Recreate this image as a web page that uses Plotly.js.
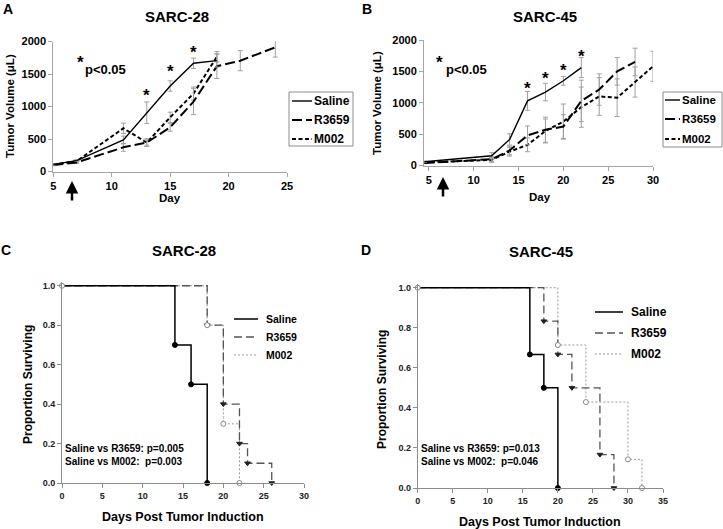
<!DOCTYPE html>
<html>
<head>
<meta charset="utf-8">
<script src="https://cdn.plot.ly/plotly-3.0.1.min.js"></script>
<style>
html,body{margin:0;padding:0;background:#fff}
#plot{width:723px;height:529px}
</style>
</head>
<body>
<div id="plot"></div>
<script>
// A: tumor volume, SARC-28
const daysA_saline=[5,7,11,13,15,17,19]
const volA_saline=[110,167,485,905,1315,1665,1705]
const errA_saline=[12,15,60,165,80,80,100]
const daysA_r3659=[5,7,11,13,15,17,19,21,24]
const volA_r3659=[100,140,372,445,680,1075,1620,1705,1910]
const errA_r3659=[12,15,60,40,60,200,190,155,150]
const daysA_m002=[5,7,11,13,15,17,19]
const volA_m002=[105,160,665,445,833,1200,1765]
const errA_m002=[12,15,80,60,80,100,80]
const sigDaysA=[13,15,17]
const sigYA=[1250,1610,1910]

// B: tumor volume, SARC-45
const daysB_saline=[4.5,12,14,16,18,20,22]
const volB_saline=[60,155,415,1030,1170,1350,1560]
const errB_saline=[10,50,90,150,140,70,160]
const daysB_r3659=[4.5,12,14,16,18,20,22,24,26,28]
const volB_r3659=[40,100,240,480,570,620,1030,1210,1500,1650]
const errB_r3659=[10,40,70,150,200,190,330,250,220,220]
const daysB_m002=[4.5,12,14,16,18,20,22,24,26,28,30]
const volB_m002=[50,90,220,330,550,700,930,1100,1080,1330,1580]
const errB_m002=[10,40,70,110,190,280,320,300,300,240,240]
const sigDaysB=[16,18,20,22]
const sigYB=[1310,1470,1590,1815]

// C / D: Kaplan-Meier survival
const tC_saline=[0,14,16,18], sC_saline=[1,0.7,0.5,0]
const tC_r3659=[0,18,20,22,23,26], sC_r3659=[1,0.8,0.4,0.2,0.1,0]
const tC_m002=[0,18,20,22], sC_m002=[1,0.8,0.3,0]
const tD_saline=[0,16,18,20], sD_saline=[1,0.667,0.5,0]
const tD_r3659=[0,18,20,22,26,28], sD_r3659=[1,0.833,0.667,0.5,0.167,0]
const tD_m002=[0,20,24,30,32], sD_m002=[1,0.714,0.429,0.143,0]

const groups=["Saline","R3659","M002"]
const pvalC=["Saline vs R3659: p=0.005","Saline vs M002:\u00a0 p=0.003"]
const pvalD=["Saline vs R3659: p=0.013","Saline vs M002:\u00a0 p=0.046"]

const FONT='Liberation Sans, Arial, sans-serif'
const W=723,H=529
const px=x=>x/W
const py=y=>1-y/H

function growth(days,vol,err,dash,width,xa,ya){
return {x:days,y:vol,type:'scatter',mode:'lines',xaxis:xa,yaxis:ya,showlegend:false,
line:{color:'#000',width:width,dash:dash},
error_y:{type:'data',array:err,color:'#a0a0a0',thickness:1,width:2.5}}
}
function kmLine(t,s,color,dash,width,xa,ya){
return {x:t,y:s,type:'scatter',mode:'lines',xaxis:xa,yaxis:ya,showlegend:false,
line:{shape:'hv',color:color,dash:dash,width:width}}
}
function kmMarks(t,s,symbol,color,fill,xa,ya){
return {x:t,y:s,type:'scatter',mode:'markers',xaxis:xa,yaxis:ya,showlegend:false,cliponaxis:false,
marker:{symbol:symbol,size:5,color:fill,line:{color:color,width:1}}}
}

const dashA=['solid','10px,4px','4px,2.5px']
const widthA=[1.4,2,2]
const kmColor=['#000','#555','#9a9a9a']
const kmDash=['solid','8px,4px','2px,2px']
const kmWidth=[1.5,1.3,1]

const data=[
growth(daysA_m002,volA_m002,errA_m002,dashA[2],widthA[2],'x','y'),
growth(daysA_r3659,volA_r3659,errA_r3659,dashA[1],widthA[1],'x','y'),
growth(daysA_saline,volA_saline,errA_saline,dashA[0],widthA[0],'x','y'),
growth(daysB_m002,volB_m002,errB_m002,dashA[2],widthA[2],'x2','y2'),
growth(daysB_r3659,volB_r3659,errB_r3659,dashA[1],widthA[1],'x2','y2'),
growth(daysB_saline,volB_saline,errB_saline,dashA[0],widthA[0],'x2','y2'),
kmLine(tC_m002,sC_m002,kmColor[2],kmDash[2],kmWidth[2],'x3','y3'),
kmLine(tC_r3659,sC_r3659,kmColor[1],kmDash[1],kmWidth[1],'x3','y3'),
kmLine(tC_saline,sC_saline,kmColor[0],kmDash[0],kmWidth[0],'x3','y3'),
kmMarks(tC_r3659.slice(1),sC_r3659.slice(1),'triangle-down','#222','#222','x3','y3'),
kmMarks(tC_saline.slice(1),sC_saline.slice(1),'circle','#000','#000','x3','y3'),
kmMarks(tC_m002,sC_m002,'circle','#888','#fff','x3','y3'),
kmLine(tD_m002,sD_m002,kmColor[2],kmDash[2],kmWidth[2],'x4','y4'),
kmLine(tD_r3659,sD_r3659,kmColor[1],kmDash[1],kmWidth[1],'x4','y4'),
kmLine(tD_saline,sD_saline,kmColor[0],kmDash[0],kmWidth[0],'x4','y4'),
kmMarks(tD_r3659.slice(1),sD_r3659.slice(1),'triangle-down','#222','#222','x4','y4'),
kmMarks(tD_saline.slice(1),sD_saline.slice(1),'circle','#000','#000','x4','y4'),
kmMarks(tD_m002,sD_m002,'circle','#888','#fff','x4','y4')
]

const gAxis={showline:true,linecolor:'#a6a6a6',linewidth:1,ticks:'outside',ticklen:4,tickcolor:'#a6a6a6',
showgrid:false,zeroline:false,tickfont:{family:FONT,size:11,color:'#000',weight:'bold'}}
const kAxis={showline:true,linecolor:'#8c8c8c',linewidth:1,ticks:'outside',ticklen:4,tickcolor:'#8c8c8c',
showgrid:false,zeroline:false,tickfont:{family:FONT,size:9,color:'#222',weight:'bold'}}

const ann=[]
function txt(x,y,text,size,opts){
ann.push(Object.assign({xref:'paper',yref:'paper',x:px(x),y:py(y),text:text,showarrow:false,
font:{family:FONT,size:size,color:'#000',weight:'bold'},xanchor:'center',yanchor:'middle'},opts||{}))
}
// panel letters and titles
txt(8,9,'A',14); txt(367,9,'B',14); txt(6,250,'C',14); txt(366,250,'D',14)
txt(177,17,'SARC-28',15); txt(545,17,'SARC-45',15)
txt(184,250,'SARC-28',15); txt(541,251,'SARC-45',15)
// axis titles
txt(170,198,'Day',11.5); txt(540,197,'Day',11.5)
txt(10,106,'Tumor Volume (μL)',11.5,{textangle:-90})
txt(377,103,'Tumor Volume (μL)',11.5,{textangle:-90})
txt(183,517,'Days Post Tumor Induction',12.5)
txt(540,522,'Days Post Tumor Induction',12.5)
txt(28,385,'Proportion Surviving',12,{textangle:-90})
txt(382,390,'Proportion Surviving',12,{textangle:-90})
// p<0.05 notes
txt(80,62,'*',17); txt(83,70,'p<0.05',13,{xanchor:'left'})
txt(440,62,'*',17); txt(444,70,'p<0.05',13,{xanchor:'left'})
sigDaysA.forEach((d,i)=>ann.push({xref:'x',yref:'y',x:d,y:sigYA[i],text:'*',showarrow:false,yshift:-5,
font:{family:FONT,size:17,color:'#000',weight:'bold'}}))
sigDaysB.forEach((d,i)=>ann.push({xref:'x2',yref:'y2',x:d,y:sigYB[i],text:'*',showarrow:false,yshift:-5,
font:{family:FONT,size:17,color:'#000',weight:'bold'}}))
// log-rank notes
pvalC.forEach((t,i)=>txt(63,448+i*13,t,10,{xanchor:'left'}))
pvalD.forEach((t,i)=>txt(419,448+i*13,t,10,{xanchor:'left'}))
// treatment start arrows
;[[72,181],[443,177]].forEach(p=>ann.push({xref:'paper',yref:'paper',x:px(p[0]),y:py(p[1]),ax:0,ay:21,
text:'',showarrow:true,arrowhead:2,arrowsize:1,arrowwidth:2.5,arrowcolor:'#000',standoff:0}))

// legends
const shapes=[
{type:'rect',xref:'paper',yref:'paper',x0:px(289),x1:px(353),y0:py(146),y1:py(92),line:{color:'#8c8c8c',width:1}},
{type:'rect',xref:'paper',yref:'paper',x0:px(663),x1:px(722),y0:py(147),y1:py(92),line:{color:'#8c8c8c',width:1}}
]
function legend(x0,x1,tx,rows,colors,dashes,widths,size){
groups.forEach((g,i)=>{
shapes.push({type:'line',xref:'paper',yref:'paper',x0:px(x0),x1:px(x1),y0:py(rows[i]),y1:py(rows[i]),
line:{color:colors[i],dash:dashes[i],width:widths[i]}})
txt(tx,rows[i],g,size,{xanchor:'left'})
})
}
legend(292,312,312,[101,120,139],['#000','#000','#000'],dashA,widthA,12)
legend(665,680,680,[100,119,139],['#000','#000','#000'],dashA,widthA,11.5)
legend(234,258,264,[319,337,355],kmColor,kmDash,kmWidth,10.5)
legend(595,623,629,[312,333,354],kmColor,kmDash,kmWidth,12)

const layout={
width:723,height:529,margin:{l:0,r:0,t:0,b:0},paper_bgcolor:'#fff',plot_bgcolor:'rgba(0,0,0,0)',
showlegend:false,
xaxis:Object.assign({},gAxis,{domain:[px(53.3),px(287)],range:[5,25],tickvals:[5,10,15,20,25],anchor:'y'}),
yaxis:Object.assign({},gAxis,{domain:[py(171.5),py(41.5)],range:[0,2000],tickvals:[0,500,1000,1500,2000],anchor:'x'}),
xaxis2:Object.assign({},gAxis,{domain:[px(424),px(653)],range:[4.45,30],tickvals:[5,10,15,20,25,30],anchor:'y2'}),
yaxis2:Object.assign({},gAxis,{domain:[py(165.5),py(40)],range:[0,2000],tickvals:[0,500,1000,1500,2000],anchor:'x2'}),
xaxis3:Object.assign({},kAxis,{domain:[px(62),px(304)],range:[0,30],dtick:5,anchor:'y3'}),
yaxis3:Object.assign({},kAxis,{domain:[py(483),py(281.8)],range:[0,1.02],tickvals:[0,0.2,0.4,0.6,0.8,1],tickformat:'.1f',anchor:'x3'}),
xaxis4:Object.assign({},kAxis,{domain:[px(417.7),px(663)],range:[0,35],dtick:5,anchor:'y4'}),
yaxis4:Object.assign({},kAxis,{domain:[py(488),py(283.7)],range:[0,1.02],tickvals:[0,0.2,0.4,0.6,0.8,1],tickformat:'.1f',anchor:'x4'}),
annotations:ann,
shapes:shapes
}

Plotly.newPlot('plot',data,layout,{displayModeBar:false,staticPlot:true})
</script>
</body>
</html>
